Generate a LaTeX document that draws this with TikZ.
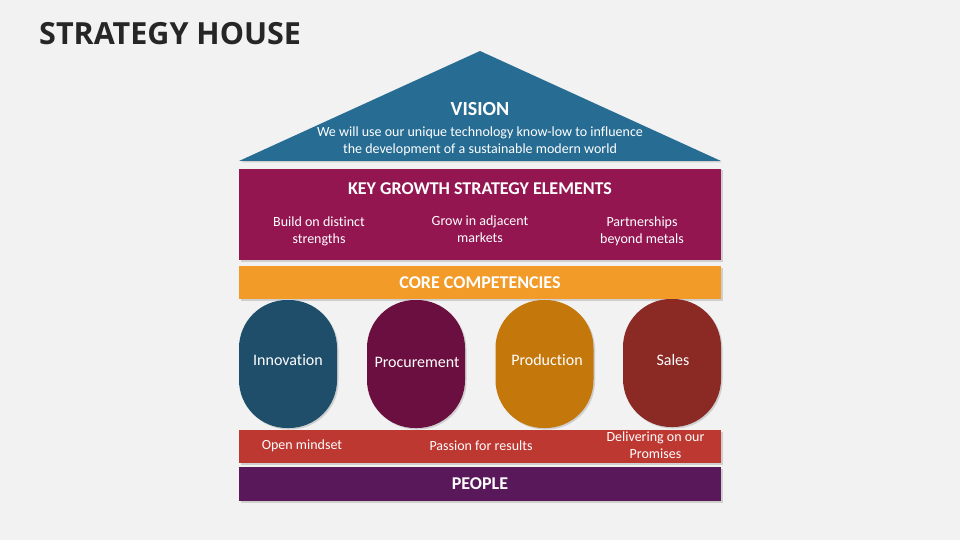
\documentclass[tikz,border=0pt]{standalone}
\usepackage{fontspec}
\setmainfont{Carlito}[Ligatures=NoCommon]
\newfontfamily\headfont{Open Sans}
\usetikzlibrary{shadows}
\definecolor{pagegray}{HTML}{F2F2F2}
\definecolor{titlegray}{HTML}{262626}
\definecolor{roofblue}{HTML}{276C93}
\definecolor{growthred}{HTML}{941651}
\definecolor{coreorange}{HTML}{F29B28}
\definecolor{innoblue}{HTML}{1F4E6B}
\definecolor{procwine}{HTML}{6B0F40}
\definecolor{prodochre}{HTML}{C4780C}
\definecolor{salesbrown}{HTML}{8B2A24}
\definecolor{valuered}{HTML}{BE3832}
\definecolor{peoplepurple}{HTML}{58185A}

\begin{document}
\begin{tikzpicture}
[
x=1pt,y=-1pt,
shade off/.style={drop shadow={shadow xshift=1.5pt,shadow yshift=-1.5pt,opacity=0.3}},
slab/.style 2 args={fill=#1,minimum width=482pt,minimum height=#2,inner sep=0pt,shade off},
pillar/.style={fill=#1,rounded corners=48pt,minimum width=98pt,minimum height=128pt,inner sep=0pt,shade off},
lbl/.style={text=white,font=\fontsize{14}{17}\selectfont,align=center},
head/.style={text=white,font=\bfseries\fontsize{18}{20}\selectfont},
]

\fill[pagegray] (0,0) rectangle (960,540);
\node[anchor=west,inner sep=0pt,text=titlegray,font=\headfont\bfseries\fontsize{30.5}{34}\selectfont] (title) at (39,34) {STRATEGY HOUSE};

% roof
\fill[roofblue,shade off] (239,161) -- (480,51) -- (721,161) -- cycle;
\node[head,font=\bfseries\fontsize{20}{22}\selectfont] (vision) at (480,109) {VISION};
\node[lbl] (visiontxt) at (480,141) {We will use our unique technology know-low to influence\\the development of a sustainable modern world};

% key growth
\node[slab={growthred}{91pt}] (growth) at (480,214.5) {};
\node[head] (growthhead) at (480,189) {KEY GROWTH STRATEGY ELEMENTS};
\node[lbl] (build) at (319,231.5) {Build on distinct\\strengths};
\node[lbl] (grow) at (480,229.5) {Grow in adjacent\\markets};
\node[lbl] (partner) at (642,231.5) {Partnerships\\beyond metals};

% core
\node[slab={coreorange}{33pt}] (core) at (480,282.5) {};
\node[head] (corehead) at (480,282.5) {CORE COMPETENCIES};

% pillars
\node[pillar=innoblue] (inno) at (288,364) {};
\node[pillar=procwine] (proc) at (416,364) {};
\node[pillar=prodochre] (prod) at (544.5,364) {};
\node[pillar=salesbrown] (sales) at (672,363) {};
\node[lbl,font=\fontsize{16}{18}\selectfont] at (288,360) {Innovation};
\node[lbl,font=\fontsize{16}{18}\selectfont] at (417,362) {Procurement};
\node[lbl,font=\fontsize{16}{18}\selectfont] at (547,360) {Production};
\node[lbl,font=\fontsize{16}{18}\selectfont] at (673,360) {Sales};

% values
\node[slab={valuered}{33pt}] (values) at (480,446.5) {};
\node[lbl] (open) at (302,446) {Open mindset};
\node[lbl] (passion) at (481,446) {Passion for results};
\node[lbl] (deliver) at (655.5,445) {Delivering on our\\Promises};

% people
\node[slab={peoplepurple}{34pt}] (people) at (480,484) {};
\node[head] (peoplehead) at (480,484) {PEOPLE};

\end{tikzpicture}
\end{document}
